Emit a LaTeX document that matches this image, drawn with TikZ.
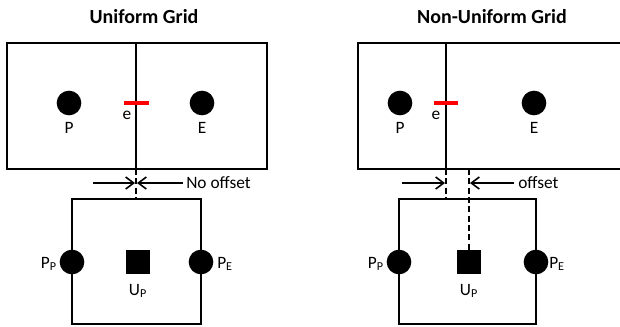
\documentclass[tikz,border=0pt]{standalone}
\usepackage{fontspec}
\setmainfont{Carlito}
\usetikzlibrary{arrows.meta}
\tikzset{
  cella/.style  = {line width=1.7pt},
  nodo/.style   = {circle, fill=black, minimum size=18.5pt, inner sep=0},
  vel/.style    = {rectangle, fill=black, minimum size=18pt, inner sep=0},
  faccia/.style = {red, line width=2.4pt},
  tratt/.style  = {line width=1.6pt, dash pattern=on 4.5pt off 2.5pt},
  freccia/.style= {line width=1.2pt, -{Straight Barb[length=6pt,width=9pt,line width=1.2pt]}},
  et/.style     = {font=\fontsize{13}{15}\selectfont, inner sep=0, anchor=base},
  titolo/.style = {font=\fontsize{15}{18}\selectfont\bfseries, inner sep=0, anchor=base}
}
\begin{document}
\begin{tikzpicture}[x=0.75pt, y=-0.75pt]
  \useasboundingbox (0,0) rectangle (620,326);
  % griglia uniforme
  \node[titolo] (t1) at (144,23) {Uniform Grid};
  \draw[cella] (7,43) rectangle (267,169); \draw[cella] (136,43) -- (136,169);
  \node[nodo] (P1) at (69,103) {};  \node[et] at (69,133) {P};
  \node[nodo] (E1) at (202,103) {}; \node[et] at (202,133) {E};
  \draw[faccia] (124,103) -- (149,103); \node[et] (e1) at (127,119) {e};
  \coordinate (f1a) at (136,169); \coordinate (f1b) at (136,199);
  \draw[tratt] (f1a) -- (f1b);
  \coordinate (a1) at (93,183); \coordinate (a1t) at (135,183);
  \coordinate (b1) at (183,183); \coordinate (b1t) at (137,183);
  \draw[freccia] (a1) -- (a1t); \draw[freccia] (b1) -- (b1t);
  \node[et, anchor=base west] (no) at (186,188) {No offset};
  \draw[cella] (72,199) rectangle (201,324);
  \node[nodo] (PP1) at (72,262) {};  \node[et, anchor=base east] at (57,268) {P\textsubscript{P}};
  \node[nodo] (PE1) at (201,262) {}; \node[et, anchor=base west] at (217,268) {P\textsubscript{E}};
  \node[vel] (U1) at (138,262) {};   \node[et] at (138,295) {U\textsubscript{P}};
  % griglia non uniforme
  \node[titolo] (t2) at (492,23) {Non-Uniform Grid};
  \draw[cella] (625,43) -- (358,43) -- (358,169) -- (625,169); \draw[cella] (446,43) -- (446,169);
  \node[nodo] (P2) at (400,103) {};  \node[et] at (400,133) {P};
  \node[nodo] (E2) at (534,103) {};  \node[et] at (534,133) {E};
  \draw[faccia] (434,103) -- (458,103); \node[et] (e2) at (436,119) {e};
  \coordinate (f2a) at (446,169); \coordinate (f2b) at (446,199);
  \draw[tratt] (f2a) -- (f2b);
  \node[vel] (U2) at (469,262) {};   \node[et] at (469,295) {U\textsubscript{P}};
  \coordinate (g2) at (469,169); \draw[tratt] (g2) -- (U2.north);
  \coordinate (a2) at (402,183); \coordinate (a2t) at (445,183);
  \coordinate (b2) at (514,183); \coordinate (b2t) at (470,183);
  \draw[freccia] (a2) -- (a2t); \draw[freccia] (b2) -- (b2t);
  \node[et, anchor=base west] (off) at (518,188) {offset};
  \draw[cella] (399,199) rectangle (536,324);
  \node[nodo] (PP2) at (399,262) {}; \node[et, anchor=base east] at (384,268) {P\textsubscript{P}};
  \node[nodo] (PE2) at (536,262) {}; \node[et, anchor=base west] at (549,268) {P\textsubscript{E}};
\end{tikzpicture}
\end{document}
